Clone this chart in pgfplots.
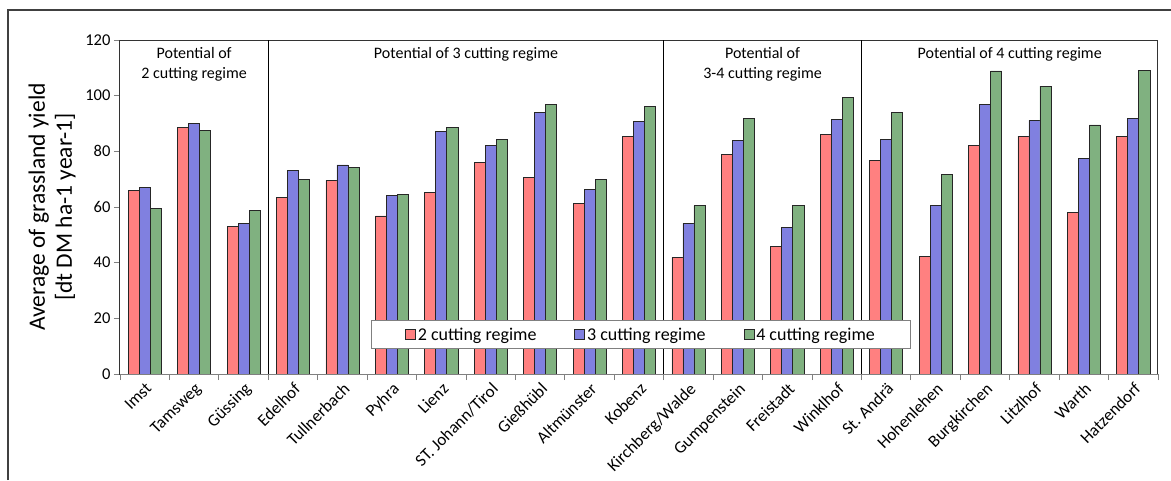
\documentclass[border=0pt]{standalone}
\usepackage{pgfplots}
\pgfplotsset{compat=1.18}
\usepackage{fontspec}
\setmainfont{Carlito}
\definecolor{cred}{RGB}{255,128,128}
\definecolor{cblue}{RGB}{128,128,224}
\definecolor{cgreen}{RGB}{128,177,128}
\begin{document}
\begin{tikzpicture}
\begin{axis}[
  at={(0pt,0pt)}, anchor=south west,
  scale only axis, width=1038pt, height=334pt,
  xmin=-0.5, xmax=20.5, ymin=0, ymax=120,
  ytick={0,20,...,120},
  xtick={0,...,20},
  xticklabels={Imst,Tamsweg,Güssing,Edelhof,Tullnerbach,Pyhra,Lienz,ST. Johann/Tirol,Gießhübl,Altmünster,Kobenz,Kirchberg/Walde,Gumpenstein,Freistadt,Winklhof,St. Andrä,Hohenlehen,Burgkirchen,Litzlhof,Warth,Hatzendorf},
  xticklabel style={rotate=45, anchor=north east, font=\fontsize{17}{19}\selectfont, inner sep=1pt},
  yticklabel style={font=\fontsize{16.5}{19}\selectfont},
  /pgf/number format/assume math mode=true,
  tick align=outside, tick pos=left,
  x tick style={draw=none},
  y tick style={draw=gray, line width=0.8pt},
  major tick length=6pt,
  extra x ticks={-0.5,0.5,...,20.5},
  extra x tick labels={},
  extra x tick style={x tick style={draw=gray, line width=0.8pt}, major tick length=6pt, tick pos=left},
  axis line style={draw=black!80, line width=1pt},
  ybar=0pt, bar width=0.223,
  ylabel={Average of grassland yield\\{[}dt DM ha-1 year-1{]}},
  ylabel style={align=center, font=\fontsize{23.5}{27}\selectfont, at={(axis description cs:-0.0655,0.5)}, anchor=center},
  legend columns=3,
  legend style={at={(0.502,0.118)}, anchor=center, draw=gray, fill=white, line width=0.8pt,
    font=\fontsize{18}{20}\selectfont, inner xsep=34pt, inner ysep=5pt,
    /tikz/every even column/.append style={column sep=36pt}},
  legend image code/.code={\draw[#1, line width=0.6pt] (0pt,-5pt) rectangle (10pt,5pt);},
  every axis plot/.append style={draw=black!85, line width=0.6pt},
  clip=false,
]
\addplot[fill=cred] coordinates {(0,66.1) (1,88.6) (2,52.9) (3,63.4) (4,69.6) (5,56.8) (6,65.3) (7,76.0) (8,70.7) (9,61.3) (10,85.3) (11,41.9) (12,79.0) (13,45.9) (14,86.1) (15,76.8) (16,42.3) (17,82.2) (18,85.5) (19,58.1) (20,85.5)};
\addplot[fill=cblue] coordinates {(0,67.1) (1,90.1) (2,54.1) (3,73.2) (4,75.1) (5,64.2) (6,87.3) (7,82.2) (8,94.0) (9,66.3) (10,90.7) (11,54.1) (12,84.0) (13,52.8) (14,91.5) (15,84.4) (16,60.6) (17,96.9) (18,91.1) (19,77.5) (20,91.7)};
\addplot[fill=cgreen] coordinates {(0,59.6) (1,87.5) (2,58.8) (3,69.8) (4,74.3) (5,64.6) (6,88.6) (7,84.2) (8,96.9) (9,69.9) (10,96.2) (11,60.5) (12,91.7) (13,60.5) (14,99.5) (15,93.9) (16,71.7) (17,108.9) (18,103.4) (19,89.5) (20,109.1)};
\legend{2 cutting regime,3 cutting regime,4 cutting regime}
\draw[black, line width=1.2pt] (axis cs:2.5,0) -- (axis cs:2.5,120);
\draw[black, line width=1.2pt] (axis cs:10.5,0) -- (axis cs:10.5,120);
\draw[black, line width=1.2pt] (axis cs:14.5,0) -- (axis cs:14.5,120);
\draw[gray, line width=1pt] (axis cs:-0.5,0) -- (axis cs:20.5,0);
\node[align=center, font=\fontsize{16}{20}\selectfont] at (axis cs:1,111.2) {Potential of\\2 cutting regime};
\node[align=center, font=\fontsize{16}{20}\selectfont] at (axis cs:6.5,114.8) {Potential of 3 cutting regime};
\node[align=center, font=\fontsize{16}{20}\selectfont] at (axis cs:12.5,111.2) {Potential of\\3-4 cutting regime};
\node[align=center, font=\fontsize{16}{20}\selectfont] at (axis cs:17.5,114.8) {Potential of 4 cutting regime};
\end{axis}
\draw[black!75, line width=1.5pt] (-112pt,-106pt) -- (-112pt,364pt) -- (1051pt,364pt);
\pgfresetboundingbox
\path[use as bounding box] (-120pt,-106pt) rectangle (1051pt,374pt);
\end{tikzpicture}
\end{document}
